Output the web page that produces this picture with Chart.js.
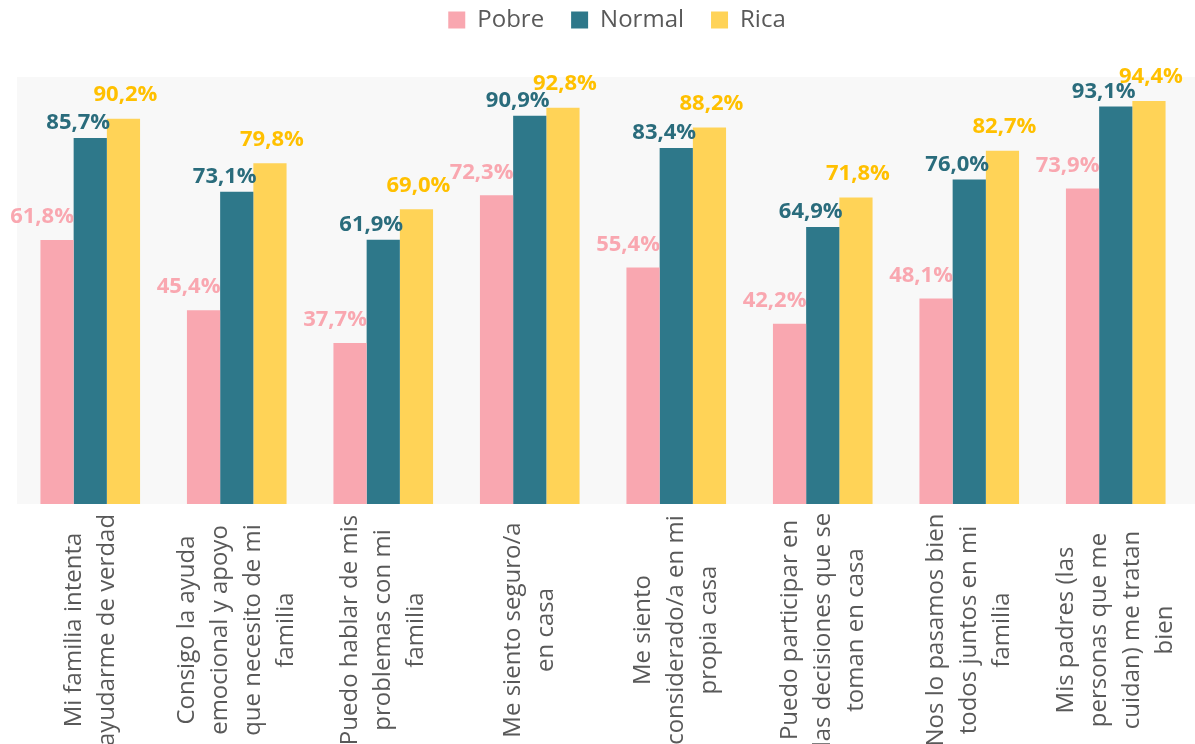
<!DOCTYPE html>
<html>
<head>
<meta charset="utf-8">
<script src="https://cdn.jsdelivr.net/npm/chart.js@4/dist/chart.umd.min.js"></script>
<style>
  html, body { margin: 0; padding: 0; background: #fff; }
  #wrap { width: 1195px; height: 744px; }
</style>
</head>
<body>
<div id="wrap"><canvas id="chart"></canvas></div>
<script>
// categories (each entry = lines of the rotated label)
const categories = [
  ['Mi familia intenta', 'ayudarme de verdad'],
  ['Consigo la ayuda', 'emocional y apoyo', 'que necesito de mi', 'familia'],
  ['Puedo hablar de mis', 'problemas con mi', 'familia'],
  ['Me siento seguro/a', 'en casa'],
  ['Me siento', 'considerado/a en mi', 'propia casa'],
  ['Puedo participar en', 'las decisiones que se', 'toman en casa'],
  ['Nos lo pasamos bien', 'todos juntos en mi', 'familia'],
  ['Mis padres (las', 'personas que me', 'cuidan) me tratan', 'bien']
];

const pobre  = [61.8, 45.4, 37.7, 72.3, 55.4, 42.2, 48.1, 73.9];
const normal = [85.7, 73.1, 61.9, 90.9, 83.4, 64.9, 76.0, 93.1];
const rica   = [90.2, 79.8, 69.0, 92.8, 88.2, 71.8, 82.7, 94.4];

const barColors   = ['#F9A7B0', '#2E788A', '#FFD357'];
const labelColors = ['#F9A7B0', '#2A6C7C', '#FFC000'];
const labelShift  = [-15, -12, 2];   // horizontal nudge of value labels
const labelGap    = [16, 8, 17];     // distance above bar top

const fmt = v => v.toFixed(1).replace('.', ',') + '%';

// legend sits higher and a bit to the right, plot area starts lower
const legendSpace = {
  id: 'legendSpace',
  afterInit(chart) {
    const legend = chart.legend;
    const fit = legend.fit;
    legend.fit = function () {
      fit.call(this);
      this.height += 35;
    };
    const draw = legend.draw;
    legend.draw = function () {
      this.ctx.save();
      this.ctx.translate(14, 0);
      draw.call(this);
      this.ctx.restore();
    };
  }
};

// light grey plot area
const plotBackground = {
  id: 'plotBackground',
  beforeDraw(chart) {
    const { ctx, chartArea: a } = chart;
    ctx.save();
    ctx.fillStyle = '#F8F8F8';
    ctx.fillRect(a.left, a.top, chart.width - a.left, a.bottom - a.top);
    ctx.restore();
  }
};

// value labels above the bars
const valueLabels = {
  id: 'valueLabels',
  afterDatasetsDraw(chart) {
    const ctx = chart.ctx;
    ctx.save();
    ctx.font = 'bold 22px "Open Sans", sans-serif';
    ctx.textAlign = 'center';
    ctx.textBaseline = 'bottom';
    chart.data.datasets.forEach((ds, di) => {
      const meta = chart.getDatasetMeta(di);
      ctx.fillStyle = labelColors[di];
      meta.data.forEach((bar, i) => {
        ctx.fillText(fmt(ds.data[i]), bar.x + labelShift[di], bar.y - labelGap[di] + 4);
      });
    });
    ctx.restore();
  }
};

// rotated, centered category labels under the axis
const categoryLabels = {
  id: 'categoryLabels',
  afterDraw(chart) {
    const ctx = chart.ctx;
    const xScale = chart.scales.x;
    const centerY = 630;
    const lineH = 33;
    ctx.save();
    ctx.font = '24px "Open Sans", sans-serif';
    ctx.fillStyle = '#595959';
    ctx.textAlign = 'center';
    ctx.textBaseline = 'middle';
    categories.forEach((lines, i) => {
      const x = xScale.getPixelForValue(i);
      ctx.save();
      ctx.translate(x, centerY);
      ctx.rotate(-Math.PI / 2);
      lines.forEach((line, k) => {
        ctx.fillText(line, 0, (k - (lines.length - 1) / 2) * lineH);
      });
      ctx.restore();
    });
    ctx.restore();
  }
};

new Chart(document.getElementById('chart'), {
  type: 'bar',
  data: {
    labels: categories,
    datasets: [
      { label: 'Pobre', data: pobre, backgroundColor: barColors[0], borderWidth: 0 },
      { label: 'Normal', data: normal, backgroundColor: barColors[1], borderWidth: 0 },
      { label: 'Rica', data: rica, backgroundColor: barColors[2], borderWidth: 0 }
    ]
  },
  options: {
    responsive: true,
    maintainAspectRatio: false,
    animation: false,
    layout: { padding: { left: 17, right: 6, top: -19, bottom: 232 } },
    datasets: { bar: { categoryPercentage: 0.68, barPercentage: 1 } },
    plugins: {
      legend: {
        position: 'top',
        labels: {
          boxWidth: 17,
          boxHeight: 17,
          padding: 27,
          color: '#595959',
          font: { family: '"Open Sans", sans-serif', size: 24 }
        }
      },
      tooltip: { enabled: false }
    },
    scales: {
      x: {
        grid: { display: false },
        border: { display: false },
        ticks: { display: false }
      },
      y: {
        display: false,
        min: 0,
        max: 100
      }
    }
  },
  plugins: [legendSpace, plotBackground, valueLabels, categoryLabels]
});
</script>
</body>
</html>
